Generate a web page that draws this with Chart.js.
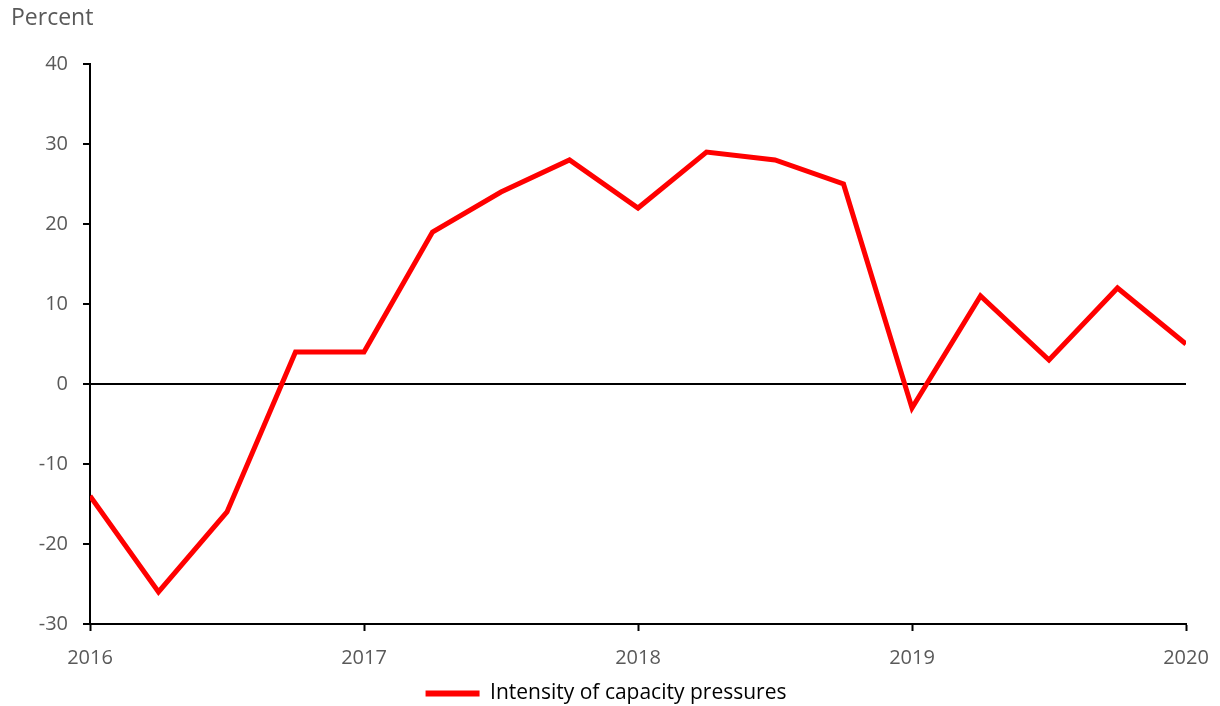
<!DOCTYPE html>
<html>
<head>
<meta charset="utf-8">
<script src="https://cdn.jsdelivr.net/npm/chart.js@4/dist/chart.umd.min.js"></script>
<style>
html,body{margin:0;padding:0;background:#fff;}
#wrap{width:1220px;height:706px;position:relative;}
</style>
</head>
<body>
<div id="wrap"><canvas id="c"></canvas></div>
<script>
const quarters = [2016, 2016.25, 2016.5, 2016.75, 2017, 2017.25, 2017.5, 2017.75, 2018, 2018.25, 2018.5, 2018.75, 2019, 2019.25, 2019.5, 2019.75, 2020];
const capacityPressures = [-14, -26, -16, 4, 4, 19, 24, 28, 22, 29, 28, 25, -3, 11, 3, 12, 5];
const seriesLabel = "Intensity of capacity pressures";
const yAxisTitle = "Percent";
const yMin = -30, yMax = 40, yStep = 10;
const xMin = 2016, xMax = 2020;

const FONT = "'Open Sans', 'Liberation Sans', sans-serif";
const GRAY = '#595959';

const titlePlugin = {
  id: 'unitTitle',
  afterDraw(chart) {
    const ctx = chart.ctx;
    ctx.save();
    ctx.font = '23px ' + FONT;
    ctx.fillStyle = GRAY;
    ctx.textBaseline = 'middle';
    ctx.textAlign = 'left';
    ctx.fillText(yAxisTitle, 11, 18);
    ctx.restore();
  }
};

new Chart(document.getElementById('c'), {
  type: 'line',
  data: {
    datasets: [{
      label: seriesLabel,
      data: quarters.map((q, i) => ({x: q, y: capacityPressures[i]})),
      borderColor: '#ff0000',
      backgroundColor: '#ff0000',
      borderWidth: 5,
      pointRadius: 0,
      tension: 0,
      borderJoinStyle: 'miter'
    }]
  },
  options: {
    responsive: true,
    maintainAspectRatio: false,
    animation: false,
    layout: { padding: { top: 64, right: 34, left: 26, bottom: -8 } },
    scales: {
      x: {
        type: 'linear',
        min: xMin, max: xMax,
        border: { color: '#000', width: 2 },
        grid: { display: true, drawOnChartArea: false, drawTicks: true, tickLength: 7, tickColor: '#000', tickWidth: 2 },
        ticks: {
          stepSize: 1,
          padding: 8,
          color: GRAY,
          font: { size: 20, family: FONT, lineHeight: 1.9 },
          maxRotation: 0,
          callback: v => String(v)
        },
        afterFit(scale) { scale.height = 59; }
      },
      y: {
        min: yMin, max: yMax,
        border: { color: '#000', width: 2 },
        grid: {
          drawTicks: true,
          tickLength: 7,
          tickColor: '#000',
          tickWidth: 2,
          color: ctx => (ctx.tick && ctx.tick.value === 0) ? '#000' : 'rgba(0,0,0,0)',
          lineWidth: 2
        },
        ticks: {
          stepSize: yStep,
          padding: 15,
          color: GRAY,
          font: { size: 20, family: FONT }
        },
        afterFit(scale) { scale.width = 64; }
      }
    },
    plugins: {
      legend: {
        position: 'bottom',
        labels: {
          color: GRAY,
          font: { size: 21, family: FONT },
          boxWidth: 54,
          boxHeight: 6,
          padding: 0,
          generateLabels: chart => [{
            text: seriesLabel,
            fillStyle: '#ff0000',
            strokeStyle: '#ff0000',
            lineWidth: 0,
            datasetIndex: 0
          }]
        }
      },
      tooltip: { enabled: false }
    }
  },
  plugins: [titlePlugin]
});
</script>
</body>
</html>
